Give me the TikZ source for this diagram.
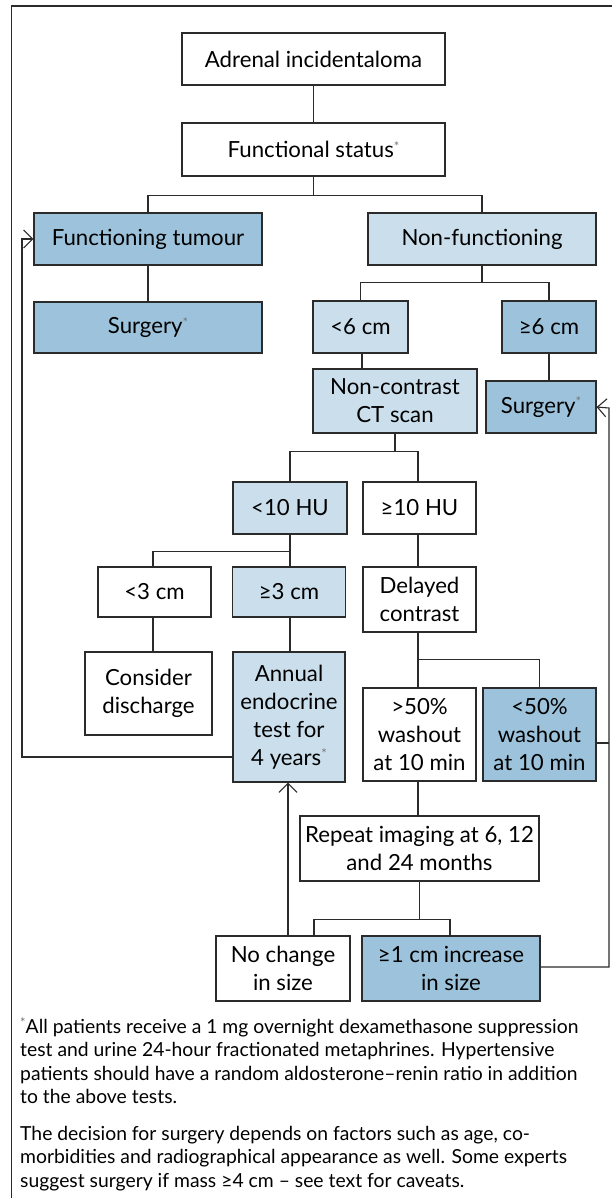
\documentclass[tikz,border=0pt]{standalone}
\usepackage{fontspec}
\setmainfont{Lato}
\usetikzlibrary{arrows.meta,calc}
\definecolor{dblue}{HTML}{9CC3DB}
\definecolor{lblue}{HTML}{CADEEC}
\definecolor{edgec}{HTML}{2B2B2B}
\newcommand{\fnmark}{\raisebox{0.55ex}{\textcolor{black!55}{\fontsize{13}{13}\selectfont *}}}
\begin{document}
\begin{tikzpicture}[x=1bp,y=-1bp,
  box/.style={draw=edgec, line width=1.2bp, inner sep=0pt, align=center, font=\fontsize{22.3}{28}\selectfont},
  wbox/.style={box, fill=white},
  lbox/.style={box, fill=lblue},
  dbox/.style={box, fill=dblue},
  conn/.style={draw=edgec, line width=1.1bp},
  arr/.style={conn, -{Straight Barb[length=9bp,width=18bp]}},
  fntext/.style={anchor=base west, inner sep=0pt, align=left, font=\fontsize{19.4}{23.5}\selectfont}
]
\useasboundingbox (0,0) rectangle (612,1198);
\fill[white] (0,0) rectangle (612,1198);
% frame
\draw[draw=edgec, line width=1.2bp] (612,6) -- (11.7,6) -- (11.7,1198);

% nodes
\node[wbox, minimum width=263bp, minimum height=52bp] (adr) at (313.5,59) {Adrenal incidentaloma};
\node[wbox, minimum width=263bp, minimum height=53bp] (fs) at (313.5,149.5) {Functional status\fnmark};
\node[dbox, minimum width=228bp, minimum height=52bp] (ft) at (148,239) {Functioning tumour};
\node[lbox, minimum width=228bp, minimum height=52bp] (nf) at (482,239) {Non-functioning};
\node[dbox, minimum width=228bp, minimum height=51bp] (surgL) at (148,327.5) {Surgery\fnmark};
\node[lbox, minimum width=95bp, minimum height=52bp] (lt6) at (360.5,327) {<6 cm};
\node[dbox, minimum width=94bp, minimum height=52bp] (ge6) at (549,327) {≥6 cm};
\node[lbox, minimum width=164bp, minimum height=64bp] (ct) at (395,401) {Non-contrast\\CT scan};
\node[dbox, minimum width=110bp, minimum height=52bp] (surgR) at (541,407) {Surgery\fnmark};
\node[lbox, minimum width=114bp, minimum height=52bp] (lt10) at (290,508) {<10 HU};
\node[wbox, minimum width=113bp, minimum height=52bp] (ge10) at (419.5,508) {≥10 HU};
\node[wbox, minimum width=113bp, minimum height=50bp] (lt3) at (154.5,592) {<3 cm};
\node[lbox, minimum width=113bp, minimum height=50bp] (ge3) at (289,592) {≥3 cm};
\node[wbox, minimum width=113bp, minimum height=65bp] (del) at (419.5,599.5) {Delayed\\contrast};
\node[wbox, minimum width=127bp, minimum height=83bp] (cons) at (148.5,693.5) {Consider\\discharge};
\node[lbox, minimum width=112bp, minimum height=130bp] (ann) at (289,717) {Annual\\endocrine\\test for\\4 years\fnmark};
\node[wbox, minimum width=113bp, minimum height=93bp] (gt50) at (419.5,734.5) {>50\%\\washout\\at 10 min};
\node[dbox, minimum width=113bp, minimum height=93bp] (lt50) at (539.5,734.5) {<50\%\\washout\\at 10 min};
\node[wbox, minimum width=239bp, minimum height=65bp] (rep) at (419.5,848.5) {Repeat imaging at 6, 12\\and 24 months};
\node[wbox, minimum width=134bp, minimum height=65bp] (noch) at (283,968.5) {No change\\in size};
\node[dbox, minimum width=178bp, minimum height=65bp] (inc) at (451,968.5) {≥1 cm increase\\in size};

% helper coordinates
\coordinate (annL) at (233,757);
\coordinate (leftX) at (22,757);
\coordinate (ftIn) at (22,239);
\coordinate (noA) at (288,936);
\coordinate (noB) at (314,936);
\coordinate (lt50R) at (596,743);
\coordinate (incR) at (540,967);
\coordinate (rightX1) at (609,743);
\coordinate (rightX2) at (609,967);
\coordinate (srIn) at (609,408);

% connectors
\draw[conn] (adr) -- (fs);
\draw[conn] (fs.south) -- ++(0,19) -| (ft.north);
\draw[conn] (fs.south) -- ++(0,19) -| (nf.north);
\draw[conn] (ft) -- (surgL);
\draw[conn] (nf.south) -- ++(0,17) -| (lt6.north);
\draw[conn] (nf.south) -- ++(0,17) -| (ge6.north);
\draw[conn] ([xshift=1.5bp]lt6.south) -- ([xshift=1.5bp]lt6.south |- ct.north);
\draw[conn] (ge6.south) -- (ge6.south |- surgR.north);
\draw[conn] (ct.south) -- ++(0,18) -| (lt10.north);
\draw[conn] (ct.south) -- ++(0,18) -| ([xshift=-1.5bp]ge10.north);
\draw[conn] (lt10.south) -- ++(0,17) -| ([xshift=-1.5bp]lt3.north);
\draw[conn] (lt10.south) -- (lt10.south |- ge3.north);
\draw[conn] ([xshift=-1.5bp]ge10.south) -- ([xshift=-1.5bp]ge10.south |- del.north);
\draw[conn] ([xshift=-1.5bp]lt3.south) -- ([xshift=-1.5bp]lt3.south |- cons.north);
\draw[conn] ([xshift=1bp]ge3.south) -- ([xshift=1bp]ge3.south |- ann.north);
\draw[conn] ([xshift=-1.5bp]del.south) -- ++(0,27) -| (lt50.north);
\draw[conn] ([xshift=-1.5bp]del.south) -- ([xshift=-1.5bp]del.south |- gt50.north);
\draw[conn] ([xshift=-1.5bp]gt50.south) -- ([xshift=-1.5bp]gt50.south |- rep.north);
\draw[conn] (rep.south) -- ++(0,38) -| (noB);
\draw[conn] (rep.south) -- ++(0,38) -| ([xshift=-1bp]inc.north);
\draw[arr] (noA) -- (noA |- ann.south);
\draw[arr] (annL) -- (leftX) -- (ftIn) -- (ft.west);
\draw[conn] (lt50R) -- (rightX1);
\draw[arr] (incR) -- (rightX2) -- (srIn) -- (surgR.east);

% footnotes (base anchor = last line baseline)
\node[fntext] (fn1) at (20,1103.5) {\fnmark All patients receive a 1 mg overnight dexamethasone suppression\\test and urine 24-hour fractionated metaphrines. Hypertensive\\patients should have a random aldosterone–renin ratio in addition\\to the above tests.};
\node[fntext] (fn2) at (20,1187) {The decision for surgery depends on factors such as age, co-\\morbidities and radiographical appearance as well. Some experts\\suggest surgery if mass ≥4 cm – see text for caveats.};
\end{tikzpicture}
\end{document}
